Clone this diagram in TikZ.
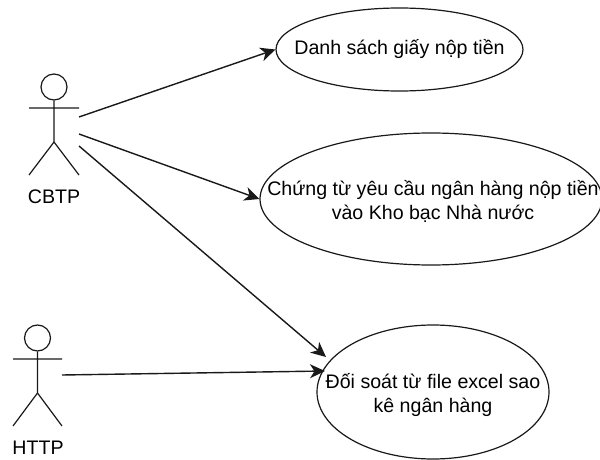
\documentclass[tikz,border=0pt]{standalone}
\usepackage{fontspec}
\setmainfont{Liberation Sans}
\usetikzlibrary{arrows.meta,shapes.geometric}
\tikzset{
  usecase/.style={draw=black!90,line width=1.2pt,ellipse,inner sep=0pt},
  casetext/.style={inner sep=0pt,align=center,font=\fontsize{19.6}{24.5}\selectfont},
  limb/.style={draw=black!90,line width=1.2pt},
  head/.style={draw=black!90,line width=1.2pt,circle,inner sep=0pt,minimum size=26pt},
  actorlabel/.style={font=\fontsize{19.6}{23}\selectfont,inner sep=0pt},
  link/.style={draw=black!90,line width=1.4pt,-{Stealth[length=15pt,width=14pt,inset=4.5pt]}}
}
\begin{document}
\begin{tikzpicture}[x=1pt,y=-1pt]
\useasboundingbox (0,0) rectangle (600,460);
\fill[white] (0,0) rectangle (600,460);
% use cases
\node[usecase,minimum width=247pt,minimum height=83pt] (e1) at (399.5,49.5) {};
\node[casetext] (c1) at (e1.center) {Danh sách giấy nộp tiền};
\node[usecase,minimum width=342pt,minimum height=132pt] (e2) at (431,199) {};
\node[casetext] (c2) at (433,201.5) {Chứng từ yêu cầu ngân hàng nộp tiền\\vào Kho bạc Nhà nước};
\node[usecase,minimum width=232pt,minimum height=134pt] (e3) at (433,392) {};
\node[casetext] (c3) at (433,395) {Đối soát từ file excel sao\\kê ngân hàng};
% actor CBTP
\node[head] (h1) at (54,87) {};
\coordinate (hip1) at (54,142);
\coordinate (al1) at (29,108);
\coordinate (ar1) at (79,108);
\coordinate (ll1) at (29,175);
\coordinate (lr1) at (79,175);
\draw[limb] (h1.south) -- (hip1) (al1) -- (ar1) (ll1) -- (hip1) -- (lr1);
\node[actorlabel] (t1) at (54,197) {CBTP};
% actor HTTP
\node[head] (h2) at (37.5,338) {};
\coordinate (hip2) at (37.5,393);
\coordinate (al2) at (13,359);
\coordinate (ar2) at (62,359);
\coordinate (ll2) at (13,426);
\coordinate (lr2) at (62,426);
\draw[limb] (h2.south) -- (hip2) (al2) -- (ar2) (ll2) -- (hip2) -- (lr2);
\node[actorlabel] (t2) at (38,448) {HTTP};
% connector ends
\coordinate (s1) at (79,117);
\coordinate (s2) at (79,134);
\coordinate (s3) at (79,146);
\coordinate (s4) at (62,375);
\coordinate (t3) at (326,357);
\coordinate (t4) at (325,371);
\draw[link] (s1) -- (e1.west);
\draw[link] (s2) -- (e2.west);
\draw[link] (s3) -- (t3);
\draw[link] (s4) -- (t4);
\end{tikzpicture}
\end{document}
